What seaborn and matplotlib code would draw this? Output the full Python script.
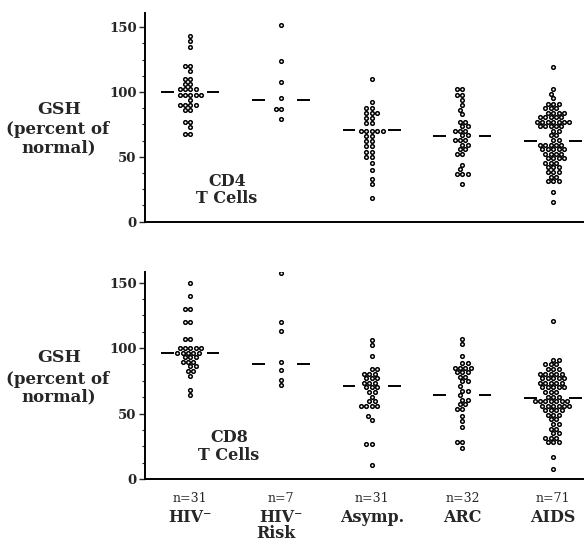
import numpy as np
import pandas as pd
import matplotlib
matplotlib.use("Agg")
import matplotlib.pyplot as plt
from matplotlib.ticker import MultipleLocator
import seaborn as sns

# ---------------- data ----------------
groups = ["HIV-", "HIV- Risk", "Asymp.", "ARC", "AIDS"]
n_labels = ["n=31", "n=7", "n=31", "n=32", "n=71"]

hiv_neg_cd4 = ([143.5, 139.5, 135, 120, 120, 116, 110, 110, 106, 106]
               + [102] * 4 + [98] * 5 + [94] + [90] * 4 + [86] * 2
               + [77, 77, 73, 68, 68])
hiv_risk_cd4 = [152, 124, 108, 95, 87, 87, 79]
asymp_cd4 = ([110, 92, 88, 88, 84, 84, 84, 80, 80, 76, 76] + [70] * 5
             + [66, 66, 62, 62, 58, 58, 54, 54, 50, 50] + [45, 40, 33, 29, 18])
arc_cd4 = ([102, 102, 98, 98, 94, 90, 86.5, 83]
           + [77, 77, 73.5, 73.5, 70, 70, 70, 66.5, 66.5, 63, 63, 63,
              59.5, 59.5, 56, 56, 52.5, 52.5]
           + [44, 40.5, 37, 37, 37, 29])
aids_cd4 = ([119, 102, 98.5, 95] + [91] * 3 + [87.5] * 3 + [84] * 4
            + [80.5] * 5 + [77] * 7 + [73.5] * 5 + [70] * 2 + [66.5] * 2 + [63] * 2
            + [59.5] * 5 + [56] * 5 + [52.5] * 4 + [49] * 4 + [45.5] * 3 + [42] * 3
            + [38] * 3 + [34.5] * 2 + [31] * 3 + [23, 15])

hiv_neg_cd8 = ([150, 140, 130, 130, 120, 120, 107, 107] + [100] * 5 + [96.5] * 5
               + [93] * 3 + [89.5] * 3 + [86] * 2 + [82.5] * 2 + [79, 68, 64])
hiv_risk_cd8 = [157, 120, 113, 89, 83, 76, 72]
asymp_cd8 = ([106, 102, 94] + [84] * 2 + [80.5] * 3 + [77] * 3 + [73.5] * 3
             + [70] * 3 + [66.5] * 2 + [63] + [59.5] * 2 + [56] * 4
             + [48, 45, 27, 27, 11])
arc_cd8 = ([107, 103, 94] + [88.5] * 2 + [85] * 4 + [81.5] * 3 + [78] * 2
           + [74.5] * 2 + [71] + [67.5] * 2 + [64]
           + [60.5] * 2 + [57] * 2 + [53.5] * 2 + [48, 44, 40, 28, 28, 24])
aids_cd8 = ([121] + [91] * 2 + [87.5] * 3 + [84] * 3 + [80.5] * 5 + [77] * 5
            + [73.5] * 5 + [70] * 5 + [66.5] * 3 + [63] * 3 + [59.5] * 7
            + [56] * 6 + [52.5] * 4 + [49] * 3 + [45.5] * 2 + [42] * 2
            + [38.5] * 2 + [35] * 2 + [31.5] * 3 + [28] * 3 + [17, 8])

median_cd4 = [100, 94, 70.5, 66, 62]
median_cd8 = [96, 88, 71, 64, 61.5]

cd4_sets = [hiv_neg_cd4, hiv_risk_cd4, asymp_cd4, arc_cd4, aids_cd4]
cd8_sets = [hiv_neg_cd8, hiv_risk_cd8, asymp_cd8, arc_cd8, aids_cd8]


def long_df(sets):
    rows = []
    for g, vals in zip(groups, sets):
        for v in vals:
            rows.append((g, v))
    return pd.DataFrame(rows, columns=["group", "GSH"])


df4 = long_df(cd4_sets)
df8 = long_df(cd8_sets)

# ---------------- style ----------------
sns.set_style("white")
plt.rcParams["font.family"] = ["DejaVu Serif"]

W, H = 584, 548
fig = plt.figure(figsize=(W / 100, H / 100), dpi=100)


def fx(px):
    return px / W


def fy(py):
    return 1 - py / H


ax1 = fig.add_axes([fx(145), fy(221.7), fx(584 - 145), (161 * 1.297) / H])
ax2 = fig.add_axes([fx(145), fy(479), fx(584 - 145), (158 * 1.309) / H])


def draw(ax, df, medians, ytop):
    sns.swarmplot(data=df, x="group", y="GSH", order=groups, ax=ax,
                  size=2.6, color="white", edgecolor="black", linewidth=1.1,
                  warn_thresh=1.0)
    for i, m in enumerate(medians):
        ax.hlines(m, i - 0.32, i - 0.18, color="black", lw=1.4)
        ax.hlines(m, i + 0.18, i + 0.32, color="black", lw=1.4)
    ax.set_xlim(-0.5, 4.34)
    ax.set_ylim(0, ytop)
    ax.set_yticks([0, 50, 100, 150])
    ax.yaxis.set_minor_locator(MultipleLocator(12.5))
    ax.tick_params(axis="y", which="major", direction="out", length=4, width=1.0,
                   pad=2, labelsize=9.5, left=True)
    ax.tick_params(axis="y", which="minor", direction="out", length=2.5, width=0.8,
                   left=True)
    for lab in ax.get_yticklabels():
        lab.set_fontweight("bold")
    ax.tick_params(axis="x", length=0, labelbottom=False)
    ax.set_xlabel("")
    ax.set_ylabel("")
    for s in ["top", "right"]:
        ax.spines[s].set_visible(False)
    for s in ["left", "bottom"]:
        ax.spines[s].set_color("black")
        ax.spines[s].set_linewidth(1.4)
    ax.set_facecolor("white")


draw(ax1, df4, median_cd4, 161)
draw(ax2, df8, median_cd8, 158)

# y labels
for ytop in (0, 249):
    fig.text(fx(59), fy(109 + ytop), "GSH", ha="center", va="center",
             fontsize=12.5, fontweight="bold")
    fig.text(fx(58), fy(130 + ytop), "(percent of", ha="center", va="center",
             fontsize=12, fontweight="bold")
    fig.text(fx(59), fy(148 + ytop), "normal)", ha="center", va="center",
             fontsize=12, fontweight="bold")

# panel labels
fig.text(fx(227), fy(182), "CD4", ha="center", va="center", fontsize=11.5,
         fontweight="bold")
fig.text(fx(227), fy(199), "T Cells", ha="center", va="center", fontsize=11.5,
         fontweight="bold")
fig.text(fx(229), fy(438), "CD8", ha="center", va="center", fontsize=11.5,
         fontweight="bold")
fig.text(fx(229), fy(455), "T Cells", ha="center", va="center", fontsize=11.5,
         fontweight="bold")

# category labels under bottom axis
trans = ax2.get_xaxis_transform()
cat_names = ["HIV\u207b", "HIV\u207b", "Asymp.", "ARC", "AIDS"]
for i, (nl, cn) in enumerate(zip(n_labels, cat_names)):
    ax2.text(i, -20 / 207, nl, transform=trans, ha="center", va="center",
             fontsize=9, clip_on=False)
    ax2.text(i, -39 / 207, cn, transform=trans, ha="center", va="center",
             fontsize=11.5, fontweight="bold", clip_on=False)
ax2.text(1 - 0.06, -55 / 207, "Risk", transform=trans, ha="center", va="center",
         fontsize=11.5, fontweight="bold", clip_on=False)

fig.savefig("out.png", dpi=100, facecolor="white")
